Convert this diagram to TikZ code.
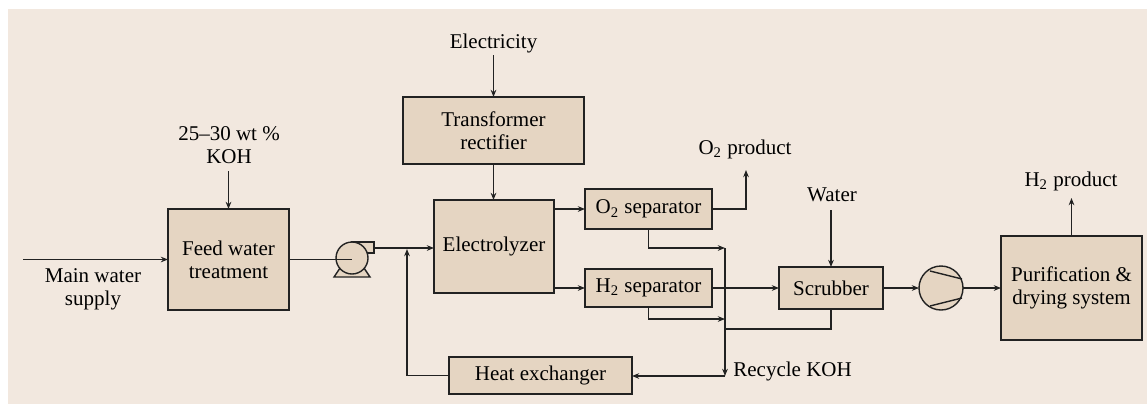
\documentclass[tikz,border=0pt]{standalone}
\usepackage{fontspec}
\setmainfont{Liberation Serif}
\usetikzlibrary{arrows.meta,calc}
\definecolor{bg}{HTML}{F2E8DF}
\definecolor{boxfill}{HTML}{E5D5C2}
\definecolor{ln}{HTML}{222222}
\begin{document}
\begin{tikzpicture}[x=0.5pt,y=-0.5pt,
  font=\fontsize{10.5}{11.5}\selectfont,
  box/.style={draw=ln, fill=boxfill, line width=0.7pt, inner sep=0pt, outer sep=0pt, align=center},
  flow/.style={draw=ln, line width=0.7pt, -{Stealth[length=3.6pt,width=2.8pt]}},
  pipe/.style={draw=ln, line width=0.7pt},
  lbl/.style={inner sep=0pt, align=center, text=black}]
\useasboundingbox (0,0) rectangle (1147,404);
\fill[bg] (8,9) rectangle (1147,404);

% boxes
\node[box, minimum width=60.5pt, minimum height=50.5pt] (feed) at (228.5,259.5) {Feed water\\treatment};
\node[box, minimum width=90.5pt, minimum height=33.5pt] (trans) at (493.5,130.5) {Transformer\\rectifier};
\node[box, minimum width=60pt, minimum height=46.5pt] (elec) at (494,246.5) {Electrolyzer};
\node[box, minimum width=63.5pt, minimum height=20pt] (osep) at (648.5,209) {O\textsubscript{2} separator};
\node[box, minimum width=63.5pt, minimum height=19pt] (hsep) at (648.5,288) {H\textsubscript{2} separator};
\node[box, minimum width=52pt, minimum height=21pt] (scr) at (831,288) {Scrubber};
\node[box, minimum width=70.5pt, minimum height=52pt] (pur) at (1071.5,288) {Purification \&\\drying system};
\node[box, minimum width=91.5pt, minimum height=18.5pt] (hx) at (540.5,375.5) {Heat exchanger};

% pump
\filldraw[fill=boxfill, draw=ln, line width=0.7pt] (352,242) rectangle (374,253);
\filldraw[fill=boxfill, draw=ln, line width=0.7pt] (334,277) -- (370,277) -- (364,268) -- (340,268) -- cycle;
\node[circle, draw=ln, fill=boxfill, line width=0.7pt, minimum size=16pt, inner sep=0pt, outer sep=0pt] (pump) at (352,258) {};
\coordinate (pout) at (374,248);

% compressor
\node[circle, draw=ln, fill=boxfill, line width=0.7pt, minimum size=22pt, inner sep=0pt, outer sep=0pt] (comp) at (941,288) {};
\draw[pipe] ($(comp.center)+(-11,-17)$) -- ($(comp.center)+(21,-9)$);
\draw[pipe] ($(comp.center)+(-11,18)$) -- ($(comp.center)+(21,10)$);

% labels
\node[lbl, anchor=base] (elecin) at (493.5,48) {Electricity};
\node[lbl] (koh) at (229,145) {25–30 wt \%\\KOH};
\node[lbl] (mws) at (93,289) {Main water\\supply};
\node[lbl, anchor=base] (oprod) at (745,154) {O\textsubscript{2} product};
\node[lbl, anchor=base] (water) at (832,201) {Water};
\node[lbl, anchor=base] (hprod) at (1071,186) {H\textsubscript{2} product};
\node[lbl, anchor=base west] (rkoh) at (733,376) {Recycle KOH};

% coordinates
\coordinate (mw) at (23,259.5);
\coordinate (kohin) at (228.5,171);
\coordinate (elin) at (493.5,55);
\coordinate (j1) at (407,249);
\coordinate (oup) at (746,170);
\coordinate (rj1) at (725,248);
\coordinate (rj2) at (725,319);
\coordinate (rj3) at (725,376);
\coordinate (rj4) at (725,329);
\coordinate (win) at (831,210);
\coordinate (hup) at (1071.5,198);

% connectors
\draw[flow] (mw) -- (feed.west);
\draw[flow] (kohin) -- (feed.north);
\draw[pipe] (feed.east) -- (feed.east -| pump.center);
\draw[flow] (pout) -- (pout -| elec.west);
\draw[flow] (hx.west) -| (j1);
\draw[flow] (elin) -- (trans.north);
\draw[flow] (trans.south) -- (trans.south |- elec.north);
\draw[flow] (osep.west -| elec.east) -- (osep.west);
\draw[flow] (hsep.west -| elec.east) -- (hsep.west);
\draw[flow] (osep.east) -| (oup);
\draw[flow] (osep.south) |- (rj1);
\draw[flow] (hsep.south) |- (rj2);
\draw[flow] (rj1) -- (rj3);
\draw[flow] (rj3) -- (rj3 -| hx.east);
\draw[flow] (hsep.east) -- (scr.west);
\draw[flow] (win) -- (scr.north);
\draw[pipe] (scr.south) |- (rj4);
\draw[flow] (scr.east) -- (comp.west);
\draw[flow] (comp.east) -- (pur.west);
\draw[flow] (pur.north) -- (hup);
\end{tikzpicture}
\end{document}
